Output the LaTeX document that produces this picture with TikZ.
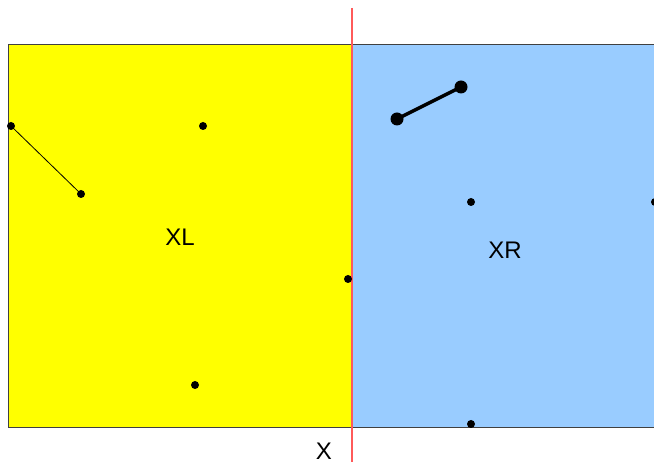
\documentclass[tikz,border=0pt]{standalone}
\usepackage{fontspec}
\setmainfont{Liberation Sans}
\definecolor{ylw}{RGB}{255,255,0}
\definecolor{lblue}{RGB}{153,204,255}
\definecolor{redline}{RGB}{255,90,90}
\begin{document}
\begin{tikzpicture}[x=1pt,y=-1pt,
  dot/.style={circle,fill=black,inner sep=0pt,minimum size=8pt},
  bigdot/.style={circle,fill=black,inner sep=0pt,minimum size=13pt},
  lbl/.style={font=\fontsize{24}{24}\selectfont,inner sep=0pt}]
\useasboundingbox (0,0) rectangle (654,462);
\fill[ylw] (8,45) rectangle (352,428);
\fill[lblue] (352,45) rectangle (660,428);
\draw[black!75,line width=1pt] (660,45) -- (8,45) -- (8,428) -- (660,428);
\draw[redline,line width=1.2pt] (352,8) -- (352,462);
\node[dot] (a1) at (11,126) {};
\node[dot] (a2) at (81,194) {};
\node[dot] (a3) at (203,126) {};
\node[dot] (a4) at (348,279) {};
\node[dot] (a5) at (195,385) {};
\node[bigdot] (b1) at (397,119) {};
\node[bigdot] (b2) at (461,87) {};
\node[dot] (b3) at (471,202) {};
\node[dot] (b4) at (655,202) {};
\node[dot] (b5) at (471,424) {};
\draw[line width=0.8pt] (a1.center) -- (a2.center);
\draw[line width=3.5pt] (b1.center) -- (b2.center);
\node[lbl] (xl) at (180,237) {XL};
\node[lbl] (xr) at (505,250) {XR};
\node[lbl,anchor=base] (x) at (324,460) {X};
\end{tikzpicture}
\end{document}
